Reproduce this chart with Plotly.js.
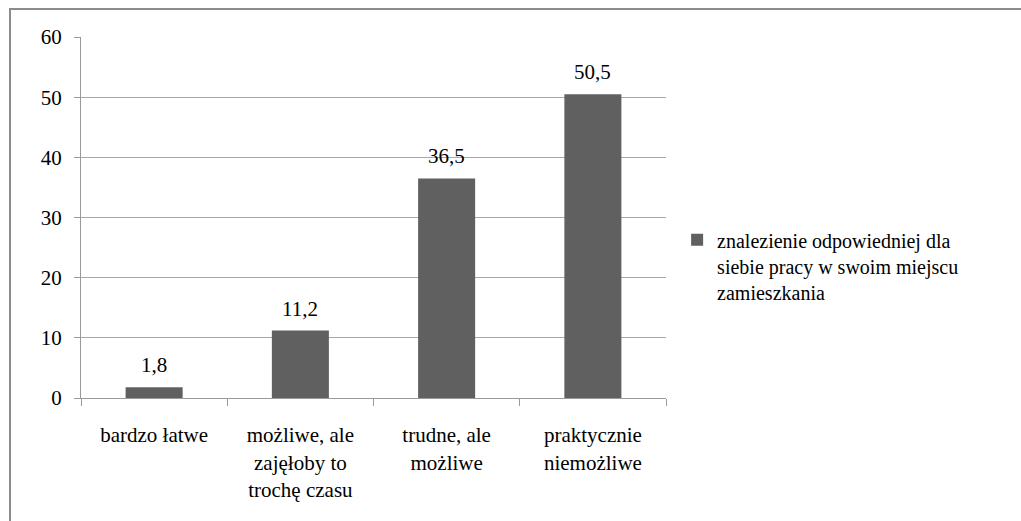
<!DOCTYPE html>
<html>
<head>
<meta charset="utf-8">
<script src="https://cdn.plot.ly/plotly-3.0.1.min.js"></script>
<style>
  html, body { margin: 0; padding: 0; background: #fff; }
  #wrap { position: relative; width: 1021px; height: 521px; overflow: hidden; }
  #chart { position: absolute; left: 0; top: 0; width: 1021px; height: 521px; }
  #chart svg text, #chart svg tspan { font-family: 'Liberation Serif', 'Times New Roman', serif !important; }
  #frame { position: absolute; left: 9px; top: 8px; width: 1100px; height: 600px;
           border-top: 2px solid #8c8c8c; border-left: 2px solid #8c8c8c; pointer-events: none; }
</style>
</head>
<body>
<div id="wrap">
  <div id="chart"></div>
  <div id="frame"></div>
</div>
<script>
const categories = [
  "bardzo łatwe",
  "możliwe, ale<br>zajęłoby to<br>trochę czasu",
  "trudne, ale<br>możliwe",
  "praktycznie<br>niemożliwe"
];
const values = [1.8, 11.2, 36.5, 50.5];
const seriesName = "znalezienie odpowiedniej dla<br>siebie pracy w swoim miejscu<br>zamieszkania";
const yTicks = [0, 10, 20, 30, 40, 50, 60];

const font = "Liberation Serif";

const trace = {
  type: "bar",
  x: categories,
  y: values,
  name: seriesName,
  marker: { color: "#606060", line: { width: 0 } },
  showlegend: true,
  hoverinfo: "none"
};

const annotations = values.map((v, i) => ({
  x: categories[i], y: v, xref: "x", yref: "y",
  text: v.toFixed(1).replace(".", ","),
  showarrow: false, yanchor: "bottom", yshift: 8,
  font: { family: font, size: 21, color: "#000" }
}));

const layout = {
  width: 1021, height: 521,
  margin: { l: 81, r: 355, t: 37, b: 123 },
  paper_bgcolor: "rgba(0,0,0,0)",
  plot_bgcolor: "#fff",
  separators: ", ",
  bargap: 0.61,
  font: { family: font, size: 21, color: "#000" },
  xaxis: {
    type: "category",
    showline: true, linecolor: "#9a9a9a", linewidth: 1,
    ticks: "outside", tickson: "boundaries", ticklen: 7, tickcolor: "#9a9a9a",
    ticklabelstandoff: 18,
    showgrid: false, zeroline: false,
    tickfont: { family: font, size: 21, color: "#000" },
    fixedrange: true
  },
  yaxis: {
    range: [0, 60],
    tickvals: yTicks,
    ticktext: yTicks.map(String),
    showline: true, linecolor: "#9a9a9a", linewidth: 1,
    ticks: "outside", ticklen: 6, tickcolor: "#9a9a9a",
    ticklabelstandoff: 8,
    showgrid: true, gridcolor: "#a8a8a8", gridwidth: 1,
    zeroline: false,
    tickfont: { family: font, size: 21, color: "#000" },
    fixedrange: true
  },
  legend: {
    x: 1.019, xanchor: "left",
    y: 0.366, yanchor: "middle",
    valign: "top",
    font: { family: font, size: 20, color: "#000" },
    bgcolor: "rgba(0,0,0,0)",
    itemwidth: 30
  },
  annotations: annotations
};

Plotly.newPlot("chart", [trace], layout, { displayModeBar: false, staticPlot: true });
</script>
</body>
</html>
